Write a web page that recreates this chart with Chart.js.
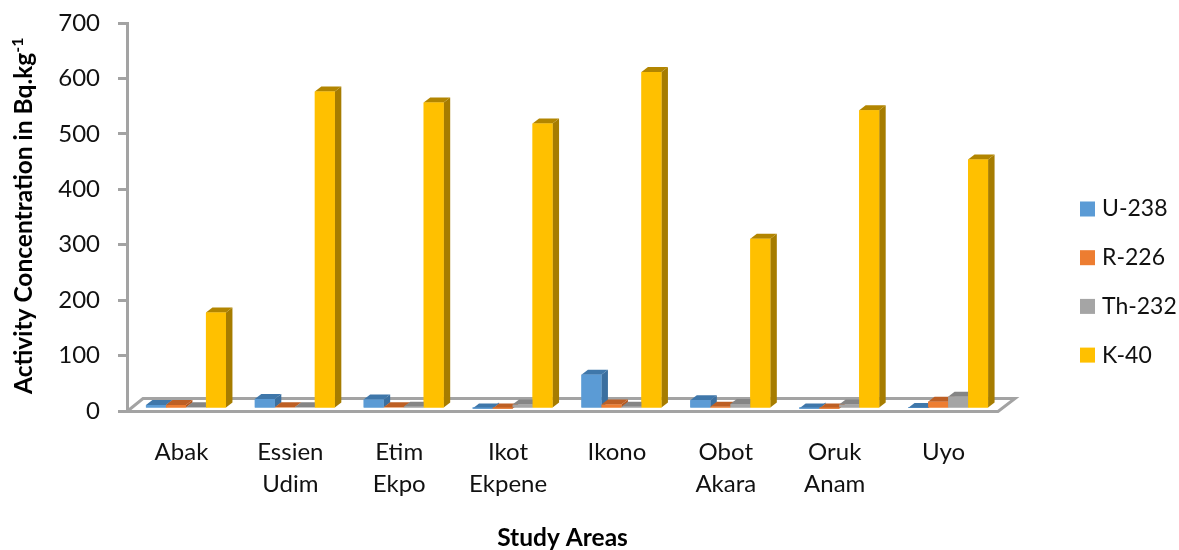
<!DOCTYPE html>
<html>
<head>
<meta charset="utf-8">
<style>
  html, body { margin: 0; padding: 0; background: #fff; }
  canvas { display: block; }
</style>
<script src="https://cdn.jsdelivr.net/npm/chart.js@4"></script>
</head>
<body>
<canvas id="activityChart" width="1179" height="550"></canvas>
<script>
const areas = [['Abak'], ['Essien', 'Udim'], ['Etim', 'Ekpo'], ['Ikot', 'Ekpene'], ['Ikono'], ['Obot', 'Akara'], ['Oruk', 'Anam'], ['Uyo']];
const u238 = [7, 18, 17, 1, 62, 16, 1, 2];
const r226 = [7, 3, 3, 1, 8, 4, 1, 13];
const th232 = [3, 3, 4, 8, 4, 9, 8, 22];
const k40 = [174, 573, 553, 515, 608, 307, 539, 450];
const yTicks = [0, 100, 200, 300, 400, 500, 600, 700];

const fontFamily = 'Lato, "Open Sans", sans-serif';
const axisGrey = '#a3a3a3';

// darker shades for the side and top faces of each column
const sideColors = ['#3b6f9f', '#b5581f', '#7c7c7c', '#a67c00'];
const topColors = ['#3f77aa', '#bd5f24', '#858585', '#b28500'];
const depthX = 6.5;
const depthY = 5;

// fake 3D look: floor under the columns plus an extruded face on every bar
const columns3d = {
    id: 'columns3d',
    beforeDatasetsDraw(chart) {
        const { ctx, chartArea } = chart;
        const bottom = chart.scales.y.getPixelForValue(0) + 0.5;
        ctx.save();
        ctx.strokeStyle = axisGrey;
        ctx.lineWidth = 3;
        ctx.beginPath();
        ctx.moveTo(chartArea.left, bottom);
        ctx.lineTo(chartArea.left + 16, bottom - 13);
        ctx.lineTo(chartArea.right + 17, bottom - 13);
        ctx.lineTo(chartArea.right, bottom);
        ctx.closePath();
        ctx.stroke();
        ctx.restore();
        ctx.save();
        ctx.translate(4.5, -2);
    },
    afterDatasetsDraw(chart) {
        const { ctx } = chart;
        chart.data.datasets.forEach((ds, i) => {
            chart.getDatasetMeta(i).data.forEach(bar => {
                const left = bar.x - bar.width / 2;
                const right = bar.x + bar.width / 2;
                ctx.fillStyle = sideColors[i];
                ctx.beginPath();
                ctx.moveTo(right, bar.base);
                ctx.lineTo(right + depthX, bar.base - depthY);
                ctx.lineTo(right + depthX, bar.y - depthY);
                ctx.lineTo(right, bar.y);
                ctx.closePath();
                ctx.fill();
                ctx.fillStyle = topColors[i];
                ctx.beginPath();
                ctx.moveTo(left, bar.y);
                ctx.lineTo(left + depthX, bar.y - depthY);
                ctx.lineTo(right + depthX, bar.y - depthY);
                ctx.lineTo(right, bar.y);
                ctx.closePath();
                ctx.fill();
                bar.draw(ctx);
            });
        });
        ctx.restore();
    },
    afterDraw(chart) {
        const { ctx } = chart;

        // rotated y title with the superscript on the unit
        const main = 'Activity Concentration in Bq.kg';
        ctx.save();
        ctx.translate(32, 394);
        ctx.rotate(-Math.PI / 2);
        ctx.fillStyle = '#000';
        ctx.textAlign = 'left';
        ctx.textBaseline = 'alphabetic';
        ctx.font = 'bold 24.5px ' + fontFamily;
        ctx.fillText(main, 0, 0);
        const w = ctx.measureText(main).width;
        ctx.font = 'bold 16px ' + fontFamily;
        ctx.fillText('-1', w, -9);
        ctx.restore();

        // legend column right of the floor
        ctx.save();
        ctx.font = '23px ' + fontFamily;
        ctx.textBaseline = 'middle';
        chart.data.datasets.forEach((ds, i) => {
            const y = 209 + i * 48.7;
            ctx.fillStyle = ds.backgroundColor;
            ctx.fillRect(1080, y - 7.5, 15, 15);
            ctx.fillStyle = '#111';
            ctx.fillText(ds.label, 1102, y);
        });
        ctx.restore();
    }
};

new Chart(document.getElementById('activityChart').getContext('2d'), {
    type: 'bar',
    data: {
        labels: areas,
        datasets: [
            { label: 'U-238', data: u238, backgroundColor: '#5b9bd5' },
            { label: 'R-226', data: r226, backgroundColor: '#ed7d31' },
            { label: 'Th-232', data: th232, backgroundColor: '#a5a5a5' },
            { label: 'K-40', data: k40, backgroundColor: '#ffc000' }
        ]
    },
    options: {
        responsive: false,
        animation: false,
        barPercentage: 1,
        categoryPercentage: 0.735,
        layout: { padding: { top: 23, right: 181, bottom: 0 } },
        plugins: {
            tooltip: { enabled: false },
            legend: { display: false }
        },
        scales: {
            x: {
                afterFit(scale) {
                    scale.height = 139;
                },
                grid: { display: false },
                border: { display: false },
                ticks: {
                    color: '#111',
                    padding: 17,
                    maxRotation: 0,
                    autoSkip: false,
                    font: { family: fontFamily, size: 24, lineHeight: 1.33 }
                },
                title: {
                    display: true,
                    text: 'Study Areas',
                    color: '#000',
                    padding: { top: 24, bottom: 0 },
                    font: { family: fontFamily, size: 24.5, weight: 'bold', lineHeight: 1 }
                }
            },
            y: {
                min: 0,
                max: 700,
                afterBuildTicks(scale) {
                    scale.ticks = yTicks.map(value => ({ value }));
                },
                afterFit(scale) {
                    scale.width = 127;
                    scale.paddingTop = 0;
                    scale.paddingBottom = 0;
                },
                grid: {
                    display: true,
                    drawOnChartArea: false,
                    color: axisGrey,
                    lineWidth: 3,
                    tickLength: 9
                },
                border: { color: axisGrey, width: 3 },
                ticks: {
                    color: '#111',
                    padding: 18,
                    font: { family: fontFamily, size: 24 }
                }
            }
        }
    },
    plugins: [columns3d]
});
</script>
</body>
</html>
